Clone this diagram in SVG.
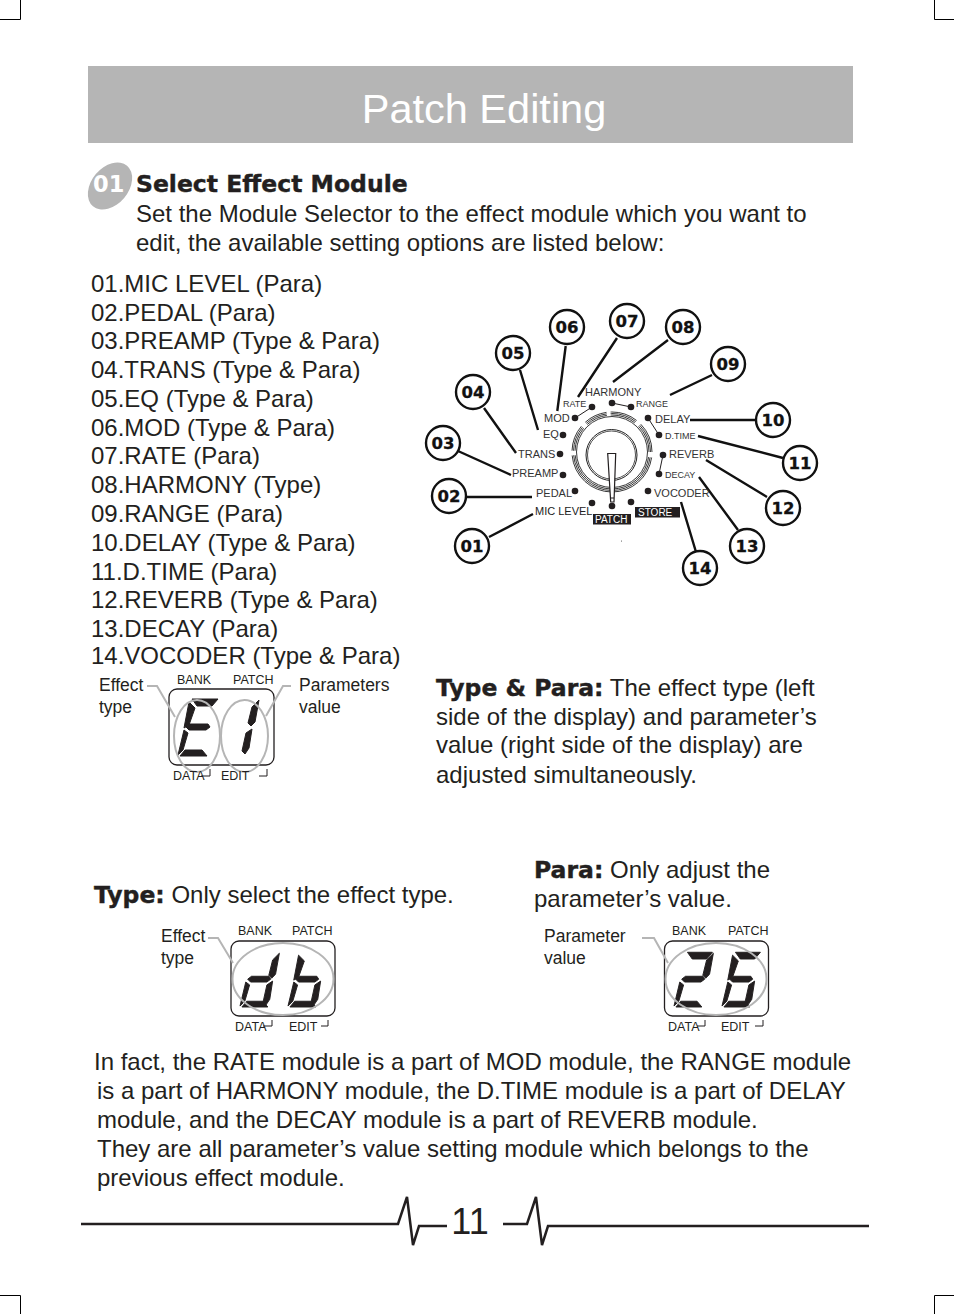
<svg xmlns="http://www.w3.org/2000/svg" width="954" height="1314" viewBox="0 0 954 1314">
<style>
text{font-family:"Liberation Sans",Arial,sans-serif;fill:#231f20}
.b{font-size:24px}
.bb{font-family:"DejaVu Sans",sans-serif;font-weight:bold;font-size:23.5px;fill:#231f20;stroke:#231f20;stroke-width:.4}
.n{font-family:"DejaVu Sans",sans-serif;font-weight:bold;font-size:16.5px;text-anchor:middle;fill:#111;stroke:#111;stroke-width:.3}
.num{fill:#fff;stroke:#111;stroke-width:2.4}
.c{fill:none;stroke:#111;stroke-width:2.4}
.d{fill:#231f20}
.s{fill:#231f20;stroke:#231f20;stroke-width:1}
.l{font-size:11px;fill:#333}
.ls{font-size:9px;fill:#333}
.lab{font-size:17.500px}
.sm{font-size:12.500px}
.box{fill:none;stroke:#231f20;stroke-width:1.300}
.gr{fill:none;stroke:#b5b5b5;stroke-width:2}
.thin{fill:none;stroke:#231f20;stroke-width:1}
.ring{fill:none;stroke:#222;stroke-width:.9}
.crop{fill:none;stroke:#000;stroke-width:1}
.foot{fill:none;stroke:#231f20;stroke-width:2.500}
</style>
<defs>
<polygon id="sa" points="14,-57 40,-57 34,-50 19,-50"/>
<polygon id="sf" points="11,-54 17,-48 11,-31 6,-28"/>
<polygon id="sg" points="8,-29 12,-32 30,-32 32,-29 28,-26 11,-26"/>
<polygon id="se" points="6,-26 10,-23 5,-6 0,-1"/>
<polygon id="sd" points="2,0 7,-6 24,-6 29,0"/>
<polygon id="sb" points="41,-56 37,-34 33,-30 30,-33 34,-49"/>
<polygon id="sc" points="34,-27 31,-8 27,-2 24,-5 28,-23"/>
</defs>
<g id="crop-marks">
<path class="crop" d="M20.500 0V19.500H0M934.500 0V19.500H954M0 1295.500H20.500V1314M954 1295.500H934.500V1314"/>
</g>
<g id="header">
<rect x="88" y="66" width="765" height="77" fill="#b5b5b5"/>
<text x="484" y="123" text-anchor="middle" style="font-size:41.500px;fill:#fff">Patch Editing</text>
</g>
<g id="step-01">
<ellipse cx="110" cy="186" rx="26.500" ry="18.500" transform="rotate(-50 110 186)" fill="#b5b5b5"/>
<text x="93" y="192" style="font-family:'DejaVu Sans',sans-serif;font-weight:bold;font-size:22.500px;fill:#fff">01</text>
<text class="bb" x="136" y="192">Select Effect Module</text>
<text class="b" x="136" y="222">Set the Module Selector to the effect module which you want to</text>
<text class="b" x="136" y="251">edit, the available setting options are listed below:</text>
</g>
<g id="module-list">
<text class="b" x="91" y="292">01.MIC LEVEL (Para)</text>
<text class="b" x="91" y="321">02.PEDAL (Para)</text>
<text class="b" x="91" y="349">03.PREAMP (Type &amp; Para)</text>
<text class="b" x="91" y="378">04.TRANS (Type &amp; Para)</text>
<text class="b" x="91" y="407">05.EQ (Type &amp; Para)</text>
<text class="b" x="91" y="436">06.MOD (Type &amp; Para)</text>
<text class="b" x="91" y="464">07.RATE (Para)</text>
<text class="b" x="91" y="493">08.HARMONY (Type)</text>
<text class="b" x="91" y="522">09.RANGE (Para)</text>
<text class="b" x="91" y="551">10.DELAY (Type &amp; Para)</text>
<text class="b" x="91" y="580">11.D.TIME (Para)</text>
<text class="b" x="91" y="608">12.REVERB (Type &amp; Para)</text>
<text class="b" x="91" y="637">13.DECAY (Para)</text>
<text class="b" x="91" y="664">14.VOCODER (Type &amp; Para)</text>
</g>
<g id="connectors">
<path class="c" d="M565.700 346 557.300 411M617 338 578 397M668 340 613 382M712 375 670 395M755 420H690M783 458 698 436M767 497 706 460M738 530 699 477M696 552 681 502M520 370 538 430M484 408 516 453M458 451 511 475M466 497H532M489 537 533 514"/>
<path d="M592 407 575 418M612 403 631 407M648 418 659 435M663 455 659 474" fill="none" stroke="#231f20" stroke-width="1"/>
</g>
<g id="knob">
<circle class="ring" cx="612" cy="452" r="40" pathLength="360" stroke-dasharray="167 7 38 8 34 6 40 8 44 8" stroke-dashoffset="-8"/>
<circle class="ring" cx="612" cy="452" r="38.500" pathLength="360" stroke-dasharray="167 7 38 8 34 6 40 8 44 8" stroke-dashoffset="-8"/>
<circle class="ring" cx="612" cy="452" r="37" pathLength="360" stroke-dasharray="167 7 38 8 34 6 40 8 44 8" stroke-dashoffset="-8"/>
<circle class="ring" cx="612" cy="452" r="35.500"/>
<circle cx="611.500" cy="455" r="25.500" fill="none" stroke="#222" stroke-width="1"/>
<circle cx="611.500" cy="455" r="24" fill="none" stroke="#222" stroke-width=".8"/>
<polygon points="607.700,453.500 615.700,453.500 614,502 610.700,502" fill="#fff" stroke="#231f20" stroke-width="1.200"/>
<path d="M610.700 498H614" stroke="#231f20" fill="none"/>
</g>
<g id="selector-dots">
<circle class="d" cx="592" cy="407" r="3.300"/><circle class="d" cx="575" cy="418" r="3.300"/><circle class="d" cx="563" cy="435" r="3.300"/><circle class="d" cx="560" cy="454" r="3.300"/><circle class="d" cx="563" cy="475" r="3.300"/><circle class="d" cx="575" cy="491" r="3.300"/><circle class="d" cx="592" cy="503" r="3.300"/><circle class="d" cx="612" cy="506" r="3.300"/><circle class="d" cx="631" cy="502" r="3.300"/><circle class="d" cx="648" cy="491" r="3.300"/><circle class="d" cx="659" cy="474" r="3.300"/><circle class="d" cx="663" cy="455" r="3.300"/><circle class="d" cx="659" cy="435" r="3.300"/><circle class="d" cx="648" cy="418" r="3.300"/><circle class="d" cx="631" cy="407" r="3.300"/><circle class="d" cx="612" cy="403" r="3.300"/>
<circle cx="621.500" cy="541" r=".5" fill="#333"/>
</g>
<g id="selector-labels">
<text class="l" x="585" y="396">HARMONY</text>
<text class="ls" x="563" y="407">RATE</text>
<text class="ls" x="636" y="407">RANGE</text>
<text class="l" x="544" y="422">MOD</text>
<text class="l" x="543" y="438">EQ</text>
<text class="l" x="518" y="458">TRANS</text>
<text class="l" x="512" y="477">PREAMP</text>
<text class="l" x="536" y="497">PEDAL</text>
<text class="l" x="535" y="515" style="fill:#222">MIC LEVEL</text>
<text class="l" x="655" y="423">DELAY</text>
<text class="ls" x="665" y="439">D.TIME</text>
<text class="l" x="669" y="458">REVERB</text>
<text class="ls" x="665" y="478">DECAY</text>
<text class="l" x="654" y="497">VOCODER</text>
<rect x="593" y="514" width="38" height="10.500" fill="#231f20"/>
<text class="ls" x="595" y="523" style="fill:#fff;font-size:10px">PATCH</text>
<rect x="635" y="507" width="45" height="10.500" fill="#231f20"/>
<text class="ls" x="638" y="515.500" style="fill:#fff;font-size:10px">STORE</text>
</g>
<g id="n06"><circle class="num" cx="567" cy="327" r="17"/><text class="n" x="567" y="333">06</text></g>
<g id="n07"><circle class="num" cx="627" cy="321" r="17"/><text class="n" x="627" y="327">07</text></g>
<g id="n08"><circle class="num" cx="683" cy="327" r="17"/><text class="n" x="683" y="333">08</text></g>
<g id="n09"><circle class="num" cx="728" cy="364" r="17"/><text class="n" x="728" y="370">09</text></g>
<g id="n10"><circle class="num" cx="773" cy="420" r="17"/><text class="n" x="773" y="426">10</text></g>
<g id="n11"><circle class="num" cx="800" cy="463" r="17"/><text class="n" x="800" y="469">11</text></g>
<g id="n12"><circle class="num" cx="783" cy="508" r="17"/><text class="n" x="783" y="514">12</text></g>
<g id="n13"><circle class="num" cx="747" cy="546" r="17"/><text class="n" x="747" y="552">13</text></g>
<g id="n14"><circle class="num" cx="700" cy="568" r="17"/><text class="n" x="700" y="574">14</text></g>
<g id="n05"><circle class="num" cx="513" cy="353" r="17"/><text class="n" x="513" y="359">05</text></g>
<g id="n04"><circle class="num" cx="473" cy="392" r="17"/><text class="n" x="473" y="398">04</text></g>
<g id="n03"><circle class="num" cx="443" cy="443" r="17"/><text class="n" x="443" y="449">03</text></g>
<g id="n02"><circle class="num" cx="449" cy="496" r="17"/><text class="n" x="449" y="502">02</text></g>
<g id="n01"><circle class="num" cx="472" cy="546" r="17"/><text class="n" x="472" y="552">01</text></g>
<g id="display-e1">
<rect class="box" x="169" y="689" width="105" height="76" rx="8"/>
<g class="s" transform="translate(178 756)"><use href="#sa"/><use href="#sf"/><use href="#sg"/><use href="#se"/><use href="#sd"/></g>
<g class="s" transform="translate(218 756)"><use href="#sb"/><use href="#sc"/></g>
<ellipse class="gr" cx="197" cy="736" rx="23" ry="36"/>
<ellipse class="gr" cx="244.500" cy="736" rx="23.500" ry="36"/>
<path class="gr" d="M147 686H157L175 717M291 686H283L266 716"/>
<text class="sm" x="177" y="684">BANK</text><text class="sm" x="233" y="684">PATCH</text>
<text class="sm" x="173" y="780">DATA</text><text class="sm" x="221" y="780">EDIT</text>
<path class="thin" d="M201 776H210V769M259 776H267V769"/>
<text class="lab" x="99" y="691">Effect</text><text class="lab" x="99" y="713">type</text>
<text class="lab" x="299" y="691">Parameters</text><text class="lab" x="299" y="713">value</text>
</g>
<g id="type-para-note">
<text class="b" x="436" y="696"><tspan class="bb">Type &amp; Para:</tspan> The effect type (left</text>
<text class="b" x="436" y="725">side of the display) and parameter’s</text>
<text class="b" x="436" y="753">value (right side of the display) are</text>
<text class="b" x="436" y="783">adjusted simultaneously.</text>
</g>
<g id="para-note">
<text class="b" x="534" y="878"><tspan class="bb">Para:</tspan> Only adjust the</text>
<text class="b" x="534" y="907">parameter’s value.</text>
</g>
<g id="type-note">
<text class="b" x="94" y="903"><tspan class="bb">Type:</tspan> Only select the effect type.</text>
</g>
<g id="display-db">
<rect class="box" x="231" y="941" width="104" height="75" rx="8"/>
<g class="s" transform="translate(240 1007) scale(.96)"><use href="#sb"/><use href="#sc"/><use href="#sg"/><use href="#se"/><use href="#sd"/></g>
<g class="s" transform="translate(288 1007) scale(.96)"><use href="#sf"/><use href="#sc"/><use href="#sg"/><use href="#se"/><use href="#sd"/></g>
<ellipse class="gr" cx="283" cy="979" rx="50.500" ry="36"/>
<path class="gr" d="M208 938H218L233 963"/>
<text class="sm" x="238" y="935">BANK</text><text class="sm" x="292" y="935">PATCH</text>
<text class="sm" x="235" y="1031">DATA</text><text class="sm" x="289" y="1031">EDIT</text>
<path class="thin" d="M263 1026H272V1020M321 1026H328V1020"/>
<text class="lab" x="161" y="942">Effect</text><text class="lab" x="161" y="964">type</text>
</g>
<g id="display-26">
<rect class="box" x="664.500" y="941" width="104" height="75" rx="8"/>
<g class="s" transform="translate(674 1007) scale(.96)"><use href="#sa"/><use href="#sb"/><use href="#sg"/><use href="#se"/><use href="#sd"/></g>
<g class="s" transform="translate(722 1007) scale(.96)"><use href="#sa"/><use href="#sf"/><use href="#sg"/><use href="#se"/><use href="#sc"/><use href="#sd"/></g>
<ellipse class="gr" cx="716" cy="979" rx="50.500" ry="36"/>
<path class="gr" d="M642 938H654L668 963"/>
<text class="sm" x="672" y="935">BANK</text><text class="sm" x="728" y="935">PATCH</text>
<text class="sm" x="668" y="1031">DATA</text><text class="sm" x="721" y="1031">EDIT</text>
<path class="thin" d="M697 1026H705V1020M755 1026H763V1020"/>
<text class="lab" x="544" y="942">Parameter</text><text class="lab" x="544" y="964">value</text>
</g>
<g id="closing-note">
<text class="b" x="94" y="1070">In fact, the RATE module is a part of MOD module, the RANGE module</text>
<text class="b" x="97" y="1099">is a part of HARMONY module, the D.TIME module is a part of DELAY</text>
<text class="b" x="97" y="1128">module, and the DECAY module is a part of REVERB module.</text>
<text class="b" x="97" y="1157">They are all parameter’s value setting module which belongs to the</text>
<text class="b" x="97" y="1186">previous effect module.</text>
</g>
<g id="footer">
<path class="foot" d="M81 1224H398L407 1197 413 1245 419 1226H447M503 1224H527L536 1197 542 1245 548 1226H869"/>
<text x="470" y="1234" text-anchor="middle" style="font-size:36px">11</text>
</g>
</svg>
